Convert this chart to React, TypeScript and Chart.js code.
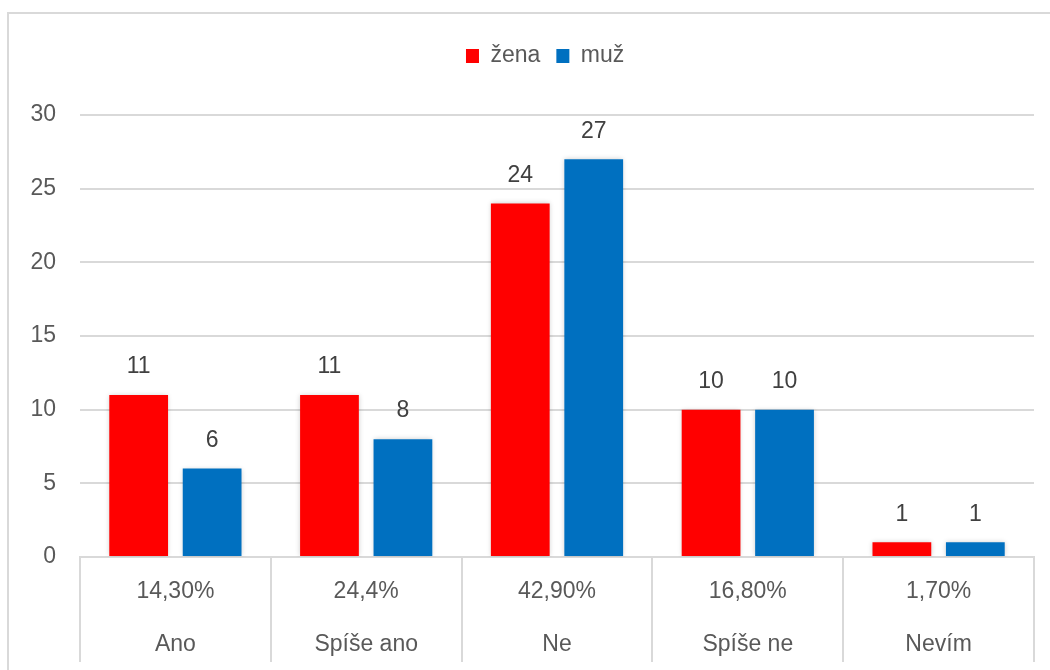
import React, { useEffect, useRef } from "react";
import { Chart, registerables } from "chart.js";

Chart.register(...registerables);

const categories = ["Ano", "Spíše ano", "Ne", "Spíše ne", "Nevím"];
const percentages = ["14,30%", "24,4%", "42,90%", "16,80%", "1,70%"];
const zenaValues = [11, 11, 24, 10, 1];
const muzValues = [6, 8, 27, 10, 1];
const seriesNames = ["žena", "muž"];
const yTicks = [0, 5, 10, 15, 20, 25, 30];

const FONT = "'Liberation Sans', Arial, sans-serif";
const GRID = "#d9d9d9";
const TEXT = "#595959";

const legendSpacing = {
  id: "legendSpacing",
  beforeInit(chart: any) {
    const legend = chart.legend;
    if (!legend) return;
    const orig = legend.fit;
    legend.fit = function () {
      orig.call(this);
      this.height += 37.5;
    };
  },
  afterLayout(chart: any) {
    const legend = chart.legend;
    if (legend) legend.left = 56.3;
  },
};

const barDecor = {
  id: "barDecor",
  beforeDatasetsDraw(chart: any) {
    const ctx = chart.ctx;
    ctx.save();
    ctx.shadowColor = "rgba(0,0,0,0.2)";
    ctx.shadowBlur = 5;
    ctx.shadowOffsetX = 0;
    ctx.shadowOffsetY = 0;
  },
  afterDatasetsDraw(chart: any) {
    const ctx = chart.ctx;
    ctx.restore();
    ctx.save();
    ctx.font = `23px ${FONT}`;
    ctx.fillStyle = "#404040";
    ctx.textAlign = "center";
    ctx.textBaseline = "middle";
    chart.data.datasets.forEach((ds: any, di: number) => {
      const meta = chart.getDatasetMeta(di);
      meta.data.forEach((bar: any, i: number) => {
        ctx.fillText(String(ds.data[i]), bar.x, bar.y - 28);
      });
    });
    ctx.restore();
  },
};

export default function App() {
  const ref = useRef<HTMLCanvasElement | null>(null);

  useEffect(() => {
    if (!ref.current) return;
    const chart = new Chart(ref.current, {
      type: "bar",
      data: {
        labels: categories.map((c, i) => [percentages[i], c]),
        datasets: [
          {
            label: seriesNames[0],
            data: zenaValues,
            backgroundColor: "#ff0000",
            categoryPercentage: 0.77,
            barPercentage: 0.8,
          },
          {
            label: seriesNames[1],
            data: muzValues,
            backgroundColor: "#0070c0",
            categoryPercentage: 0.77,
            barPercentage: 0.8,
          },
        ],
      },
      options: {
        responsive: false,
        animation: false,
        layout: { padding: { top: 28.5, left: 0, right: 16, bottom: 0 } },
        plugins: {
          tooltip: { enabled: false },
          legend: {
            position: "top",
            align: "center",
            labels: {
              boxWidth: 13,
              boxHeight: 14,
              padding: 16,
              color: TEXT,
              font: { family: FONT, size: 23 },
            },
          },
        },
        scales: {
          x: {
            offset: true,
            grid: {
              offset: true,
              drawOnChartArea: false,
              drawTicks: true,
              tickLength: 105,
              color: GRID,
              lineWidth: 2,
            },
            border: { display: true, color: GRID, width: 2 },
            ticks: {
              autoSkip: false,
              maxRotation: 0,
              minRotation: 0,
              padding: -96.5,
              color: TEXT,
              font: { family: FONT, size: 23, lineHeight: 53 / 23 },
            },
            afterFit: (scale: any) => {
              scale.height = 113;
            },
          },
          y: {
            min: 0,
            max: 30,
            afterBuildTicks: (scale: any) => {
              scale.ticks = yTicks.map((v) => ({ value: v }));
            },
            grid: { color: GRID, lineWidth: 2, drawTicks: false },
            border: { display: false },
            ticks: {
              padding: 24,
              color: TEXT,
              font: { family: FONT, size: 23 },
            },
            afterFit: (scale: any) => {
              scale.width = 80;
            },
          },
        },
      },
      plugins: [legendSpacing, barDecor],
    });
    return () => chart.destroy();
  }, []);

  return (
    <div
      style={{
        position: "fixed",
        left: 0,
        top: 0,
        width: 1050,
        height: 670,
        overflow: "hidden",
        background: "#ffffff",
      }}
    >
      <div
        style={{
          position: "absolute",
          left: 7,
          top: 12,
          width: 1200,
          height: 800,
          borderLeft: `2px solid ${GRID}`,
          borderTop: `2px solid ${GRID}`,
        }}
      />
      <canvas
        ref={ref}
        width={1050}
        height={670}
        style={{ position: "absolute", left: 0, top: 0 }}
      />
    </div>
  );
}
